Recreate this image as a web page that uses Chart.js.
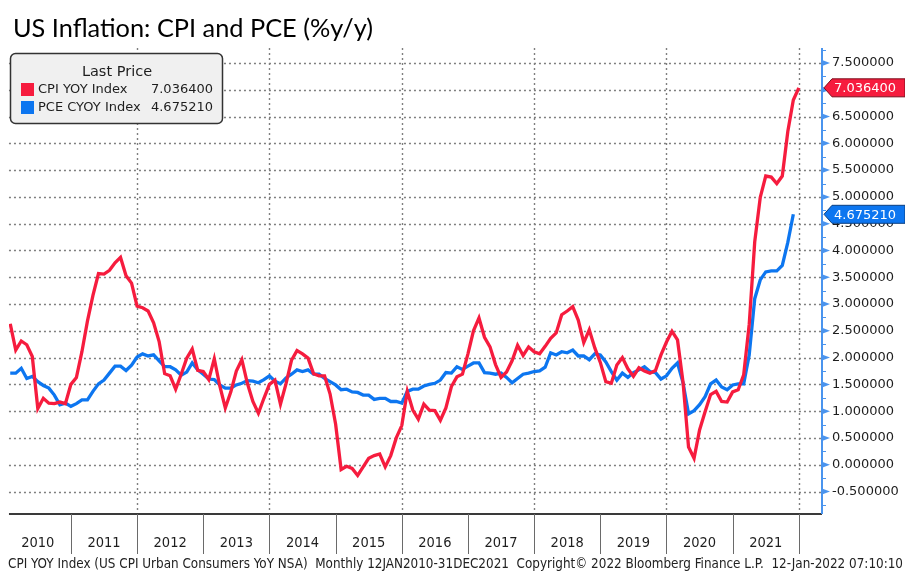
<!DOCTYPE html>
<html>
<head>
<meta charset="utf-8">
<title>US Inflation: CPI and PCE (%y/y)</title>
<script src="https://cdn.jsdelivr.net/npm/chart.js@4.4.1/dist/chart.umd.min.js"></script>
<style>
  html, body { margin: 0; padding: 0; background: #fff; }
  #wrap { width: 905px; height: 573px; position: relative; }
</style>
</head>
<body>
<div id="wrap"><canvas id="chart"></canvas></div>
<script>
// monthly, Jan 2010 .. Dec 2021
const YEARS = ['2010', '2011', '2012', '2013', '2014', '2015', '2016', '2017', '2018', '2019', '2020', '2021']

const cpiYoY = [
  2.63, 2.14, 2.31, 2.24, 2.02, 1.05, 1.24, 1.15, 1.14, 1.17, 1.14, 1.50,
  1.63, 2.11, 2.68, 3.16, 3.57, 3.56, 3.63, 3.77, 3.87, 3.53, 3.39, 2.96,
  2.93, 2.87, 2.65, 2.30, 1.70, 1.66, 1.41, 1.69, 1.99, 2.16, 1.76, 1.74,
  1.59, 1.98, 1.47, 1.06, 1.36, 1.75, 1.96, 1.52, 1.18, 0.96, 1.24, 1.50,
  1.58, 1.13, 1.51, 1.95, 2.13, 2.07, 1.99, 1.70, 1.66, 1.66, 1.32, 0.76,
  -0.09, -0.03, -0.07, -0.20, -0.04, 0.12, 0.17, 0.20, -0.04, 0.17, 0.50, 0.73,
  1.37, 1.02, 0.85, 1.13, 1.02, 1.01, 0.83, 1.06, 1.46, 1.64, 1.69, 2.07,
  2.50, 2.74, 2.38, 2.20, 1.87, 1.63, 1.73, 1.94, 2.23, 2.04, 2.20, 2.11,
  2.07, 2.21, 2.36, 2.46, 2.80, 2.87, 2.95, 2.70, 2.28, 2.52, 2.18, 1.91,
  1.55, 1.52, 1.86, 2.00, 1.79, 1.65, 1.81, 1.75, 1.71, 1.76, 2.05, 2.29,
  2.49, 2.33, 1.54, 0.33, 0.12, 0.65, 0.99, 1.31, 1.37, 1.18, 1.17, 1.36,
  1.40, 1.68, 2.62, 4.16, 4.99, 5.39, 5.37, 5.25, 5.39, 6.22, 6.81, 7.0364,
]

// ends Nov 2021
const pceCoreYoY = [
  1.71, 1.71, 1.80, 1.61, 1.65, 1.55, 1.48, 1.43, 1.30, 1.12, 1.15, 1.09,
  1.14, 1.21, 1.21, 1.37, 1.51, 1.58, 1.71, 1.84, 1.84, 1.76, 1.86, 2.01,
  2.07, 2.03, 2.05, 1.94, 1.83, 1.83, 1.77, 1.67, 1.73, 1.90, 1.77, 1.69,
  1.60, 1.59, 1.49, 1.43, 1.43, 1.49, 1.52, 1.57, 1.56, 1.53, 1.59, 1.66,
  1.56, 1.51, 1.62, 1.69, 1.77, 1.74, 1.77, 1.69, 1.69, 1.61, 1.55, 1.49,
  1.40, 1.41, 1.36, 1.35, 1.30, 1.30, 1.22, 1.24, 1.24, 1.18, 1.18, 1.15,
  1.37, 1.41, 1.41, 1.47, 1.50, 1.52, 1.58, 1.72, 1.71, 1.83, 1.78, 1.84,
  1.90, 1.90, 1.72, 1.71, 1.69, 1.71, 1.63, 1.53, 1.61, 1.69, 1.71, 1.74,
  1.75, 1.82, 2.09, 2.05, 2.11, 2.09, 2.14, 2.03, 2.03, 1.96, 2.07, 2.05,
  1.92, 1.74, 1.58, 1.71, 1.63, 1.72, 1.77, 1.83, 1.74, 1.72, 1.60, 1.66,
  1.80, 1.90, 1.53, 0.95, 1.01, 1.12, 1.27, 1.51, 1.58, 1.45, 1.40, 1.49,
  1.51, 1.51, 2.05, 3.10, 3.45, 3.60, 3.62, 3.62, 3.72, 4.15, 4.67521,
]

const Y_TICKS = [-0.5, 0, 0.5, 1, 1.5, 2, 2.5, 3, 3.5, 4, 4.5, 5, 5.5, 6, 6.5, 7, 7.5]

const RED = '#f61c3e'
const BLUE = '#0d76f0'
const AXIS_BLUE = '#4a94ee'
const TEXT = '#1e1e1e'

function lastLabel(values) {
  return values.at(-1).toFixed(6)
}

function line(ctx, x1, y1, x2, y2) {
  ctx.beginPath()
  ctx.moveTo(x1, y1)
  ctx.lineTo(x2, y2)
  ctx.stroke()
}

function drawFlag(ctx, xTip, y, text, fill, edge) {
  const h = 18
  const body = xTip + 8
  ctx.save()
  ctx.beginPath()
  ctx.moveTo(xTip, y)
  ctx.lineTo(body, y - h / 2)
  ctx.lineTo(905, y - h / 2)
  ctx.lineTo(905, y + h / 2)
  ctx.lineTo(body, y + h / 2)
  ctx.closePath()
  ctx.fillStyle = fill
  ctx.fill()
  ctx.strokeStyle = edge
  ctx.lineWidth = 1
  ctx.stroke()
  ctx.fillStyle = '#fff'
  ctx.font = '13px "DejaVu Sans"'
  ctx.textBaseline = 'middle'
  ctx.textAlign = 'left'
  ctx.fillText(text, body + 2, y + 1)
  ctx.restore()
}

const gridPlugin = {
  id: 'bbgGrid',
  beforeDatasetsDraw(chart) {
    const { ctx, chartArea, scales } = chart
    const x = scales.x
    const y = scales.y
    ctx.save()
    ctx.strokeStyle = '#7f7f7f'
    ctx.lineWidth = 1.4
    ctx.setLineDash([2, 3])
    for (const v of Y_TICKS) {
      const py = Math.round(y.getPixelForValue(v)) + 0.5
      line(ctx, chartArea.left, py, chartArea.right, py)
    }
    // every second year
    for (let k = 1; k < YEARS.length; k += 2) {
      const px = Math.round(x.getPixelForValue(12 * k + 11)) + 0.5
      line(ctx, px, chartArea.top, px, chartArea.bottom)
    }
    ctx.restore()
  },
  afterDraw(chart) {
    const { ctx, chartArea, scales } = chart
    const x = scales.x
    const y = scales.y
    ctx.save()

    // x axis line and year separators
    ctx.strokeStyle = '#3a3a3a'
    ctx.lineWidth = 2
    line(ctx, chartArea.left, chartArea.bottom, chartArea.right, chartArea.bottom)
    ctx.strokeStyle = '#6a6a6a'
    ctx.lineWidth = 1
    for (let k = 0; k < YEARS.length; k++) {
      const px = Math.round(x.getPixelForValue(12 * k + 11)) + 0.5
      line(ctx, px, chartArea.bottom, px, chartArea.bottom + 40)
    }

    // right axis with arrow ticks
    ctx.strokeStyle = AXIS_BLUE
    ctx.lineWidth = 2
    line(ctx, chartArea.right, chartArea.top, chartArea.right, chartArea.bottom)
    ctx.lineWidth = 1
    for (let v = -0.75; v <= 7.75; v += 0.5) {
      const py = Math.round(y.getPixelForValue(v)) + 0.5
      line(ctx, chartArea.right, py, chartArea.right + 4, py)
    }
    ctx.fillStyle = AXIS_BLUE
    for (const v of Y_TICKS) {
      const py = y.getPixelForValue(v)
      ctx.beginPath()
      ctx.moveTo(chartArea.right, py - 3)
      ctx.lineTo(chartArea.right + 8, py)
      ctx.lineTo(chartArea.right, py + 3)
      ctx.closePath()
      ctx.fill()
    }

    // legend box
    ctx.beginPath()
    ctx.roundRect(10.5, 53.5, 212, 70, 5)
    ctx.fillStyle = '#f0f0f0'
    ctx.fill()
    ctx.strokeStyle = '#333'
    ctx.lineWidth = 1.5
    ctx.stroke()
    ctx.fillStyle = TEXT
    ctx.font = '14.5px "DejaVu Sans"'
    ctx.textAlign = 'center'
    ctx.textBaseline = 'middle'
    ctx.fillText('Last Price', 117, 72)
    const rows = [
      ['CPI YOY Index', lastLabel(cpiYoY), RED, 90],
      ['PCE CYOY Index', lastLabel(pceCoreYoY), BLUE, 108],
    ]
    ctx.font = '13px "DejaVu Sans"'
    for (const [name, value, color, ry] of rows) {
      ctx.fillStyle = color
      ctx.fillRect(21, ry - 7, 13, 13)
      ctx.fillStyle = TEXT
      ctx.textAlign = 'left'
      ctx.fillText(name, 38, ry)
      ctx.textAlign = 'right'
      ctx.fillText(value, 213, ry)
    }

    // title and footer
    ctx.fillStyle = '#000'
    ctx.textAlign = 'left'
    ctx.textBaseline = 'alphabetic'
    ctx.font = '25.5px Lato'
    ctx.fillText('US Inflation: CPI and PCE (%y/y)', 13, 37, 360)
    ctx.fillStyle = '#222'
    ctx.font = '13.5px "DejaVu Sans Condensed"'
    ctx.fillText('CPI YOY Index (US CPI Urban Consumers YoY NSA)  Monthly 12JAN2010-31DEC2021  Copyright\u00a9 2022 Bloomberg Finance L.P.  12-Jan-2022 07:10:10', 8, 568, 895)

    // last value flags
    drawFlag(ctx, chartArea.right + 2, y.getPixelForValue(cpiYoY.at(-1)), lastLabel(cpiYoY), RED, '#7a0d1c')
    drawFlag(ctx, chartArea.right + 2, y.getPixelForValue(pceCoreYoY.at(-1)), lastLabel(pceCoreYoY), BLUE, '#0a3f80')
    ctx.restore()
  },
}

const chart = new Chart(document.getElementById('chart'), {
  type: 'line',
  data: {
    datasets: [
      {
        label: 'CPI YOY Index',
        data: cpiYoY.map((v, i) => ({ x: i, y: v })),
        borderColor: RED,
        borderWidth: 3.3,
        pointRadius: 0,
        tension: 0,
      },
      {
        label: 'PCE CYOY Index',
        data: pceCoreYoY.map((v, i) => ({ x: i, y: v })),
        borderColor: BLUE,
        borderWidth: 3.3,
        pointRadius: 0,
        tension: 0,
      },
    ],
  },
  options: {
    responsive: true,
    maintainAspectRatio: false,
    animation: false,
    layout: { padding: { left: 6, top: 48, right: 0, bottom: 0 } },
    plugins: {
      legend: { display: false },
      tooltip: { enabled: false },
    },
    scales: {
      x: {
        type: 'linear',
        min: -0.23,
        max: 147.2,
        grid: { display: false, drawTicks: false },
        border: { display: false },
        afterBuildTicks: (scale) => {
          scale.ticks = YEARS.map((_, k) => ({ value: 12 * k + 5 }))
        },
        afterFit: (scale) => {
          scale.height = 59
        },
        ticks: {
          autoSkip: false,
          maxRotation: 0,
          padding: 21,
          color: TEXT,
          font: { family: '"DejaVu Sans Condensed"', size: 14.5 },
          callback: (value, index) => YEARS[index],
        },
      },
      y: {
        position: 'right',
        min: -0.92,
        max: 7.78,
        grid: { display: false, drawTicks: false },
        border: { display: false },
        afterBuildTicks: (scale) => {
          scale.ticks = Y_TICKS.map((v) => ({ value: v }))
        },
        afterFit: (scale) => {
          scale.width = 83
        },
        ticks: {
          padding: 10,
          color: TEXT,
          font: { family: '"DejaVu Sans"', size: 13 },
          callback: (value) => Number(value).toFixed(6),
        },
      },
    },
  },
  plugins: [gridPlugin],
})
</script>
</body>
</html>
